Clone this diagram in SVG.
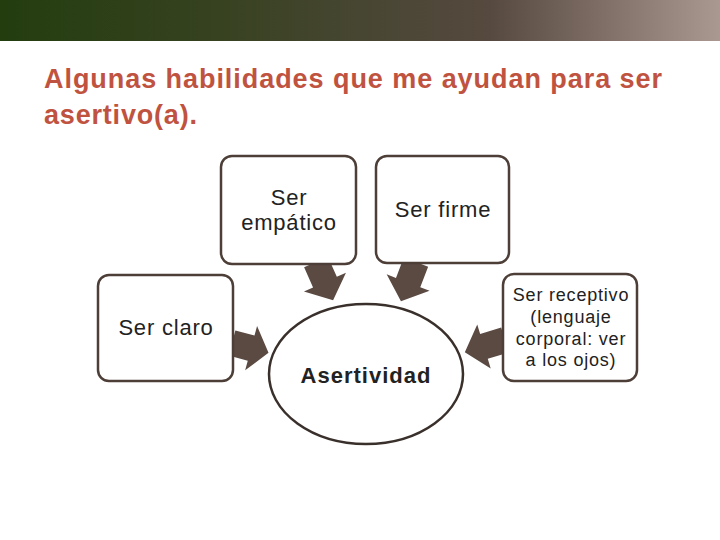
<svg xmlns="http://www.w3.org/2000/svg" width="720" height="540" viewBox="0 0 720 540">
<defs>
<linearGradient id="hdr" x1="0" y1="0" x2="1" y2="0">
<stop offset="0" stop-color="#233d0f"/>
<stop offset="0.3" stop-color="#374220"/>
<stop offset="0.5" stop-color="#474632"/>
<stop offset="0.68" stop-color="#56493f"/>
<stop offset="0.82" stop-color="#7a6a62"/>
<stop offset="1" stop-color="#a99991"/>
</linearGradient>
<path id="arr" d="M0,-13 L22,-13 L22,-23 L42,0 L22,23 L22,13 L0,13 Z"/>
</defs>
<style>
.box{fill:#fff;stroke:#4d3f38;stroke-width:2.5}
.t{font-family:"Liberation Sans",Arial,sans-serif;fill:#222;text-anchor:middle;letter-spacing:0.8px}
.ttl{font-family:"Liberation Sans",Arial,sans-serif;font-weight:bold;font-size:27px;fill:#c0533f}
.a{fill:#5a4a42}
</style>
<rect width="720" height="540" fill="#fff"/>
<rect x="0" y="0" width="720" height="41" fill="url(#hdr)"/>
<text class="ttl" x="44" y="88" textLength="618" lengthAdjust="spacing">Algunas habilidades que me ayudan para ser</text>
<text class="ttl" x="44" y="124" textLength="153" lengthAdjust="spacing">asertivo(a).</text>
<g id="connectors">
<use href="#arr" class="a" transform="translate(316,262) rotate(66)"/>
<use href="#arr" class="a" transform="translate(416,262) rotate(111)"/>
<use href="#arr" class="a" transform="translate(232,343) rotate(15) scale(0.9,1)"/>
<use href="#arr" class="a" transform="translate(505,340) rotate(163)"/>
</g>
<g id="empatico">
<rect class="box" x="221" y="156" width="135" height="108" rx="11"/>
<text class="t" x="289" y="205" font-size="22">Ser</text>
<text class="t" x="289" y="230" font-size="22">empático</text>
</g>
<g id="firme">
<rect class="box" x="376" y="156" width="133" height="107" rx="11"/>
<text class="t" x="443" y="217" font-size="22">Ser firme</text>
</g>
<g id="claro">
<rect class="box" x="98" y="275" width="135" height="106" rx="11"/>
<text class="t" x="166" y="335" font-size="22">Ser claro</text>
</g>
<g id="receptivo">
<rect class="box" x="503" y="274" width="134" height="107" rx="11"/>
<text class="t" x="571" y="301" font-size="18">Ser receptivo</text>
<text class="t" x="571" y="323" font-size="18">(lenguaje</text>
<text class="t" x="571" y="345" font-size="18">corporal: ver</text>
<text class="t" x="571" y="366" font-size="18">a los ojos)</text>
</g>
<g id="asertividad">
<ellipse cx="366" cy="374" rx="97" ry="70" fill="#fff" stroke="#3a302b" stroke-width="2.5"/>
<text class="t" x="366" y="383" font-size="22" font-weight="bold" style="letter-spacing:1px">Asertividad</text>
</g>
</svg>
